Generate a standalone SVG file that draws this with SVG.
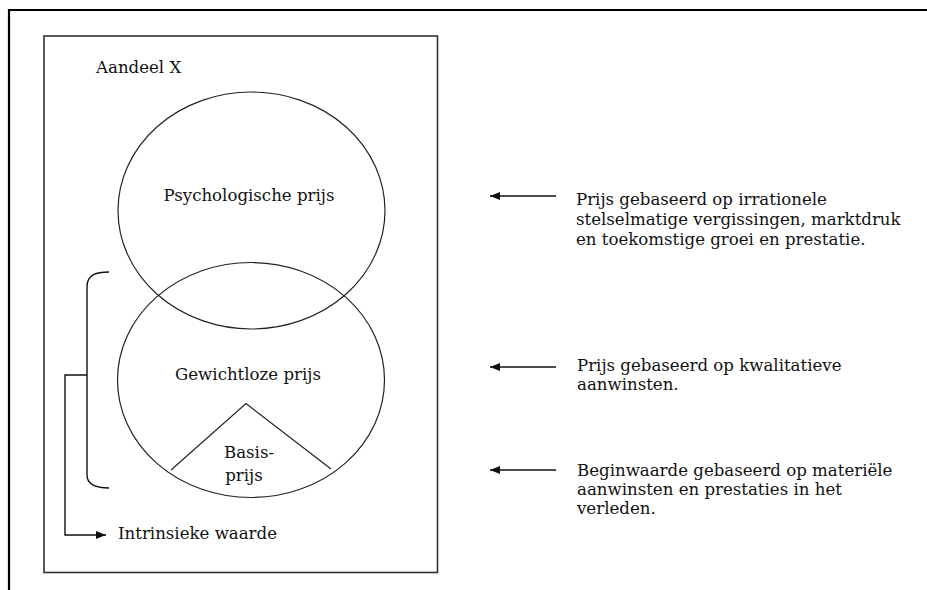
<svg xmlns="http://www.w3.org/2000/svg" width="927" height="590" viewBox="0 0 927 590">
<defs>
<style>
text{font-family:"DejaVu Serif","Liberation Serif",serif;font-size:16.6px;fill:#111}
.thin{fill:none;stroke:#222;stroke-width:1.2}
.box{fill:none;stroke:#333;stroke-width:1.6}
.frame{fill:none;stroke:#000;stroke-width:2.2}
.conn{fill:none;stroke:#111;stroke-width:1.4}
</style>
<marker id="ah" viewBox="0 0 10 8" refX="10" refY="4" markerWidth="10" markerHeight="8" markerUnits="userSpaceOnUse" orient="auto-start-reverse">
<path d="M0,0 L10,4 L0,8 Z" fill="#111"/>
</marker>
</defs>
<rect width="927" height="590" fill="#fff"/>
<path class="frame" d="M9,590 L9,10 L927,10"/>
<rect id="aandeel" class="box" x="44" y="36" width="393.5" height="536.5"/>
<text x="96" y="73">Aandeel X</text>
<g id="psychologische">
<ellipse class="thin" cx="251.5" cy="210.5" rx="133.5" ry="118.5"/>
<text x="249" y="201" text-anchor="middle">Psychologische prijs</text>
</g>
<g id="gewichtloze">
<ellipse class="thin" cx="251" cy="380" rx="133.5" ry="117.5"/>
<text x="248" y="380" text-anchor="middle">Gewichtloze prijs</text>
</g>
<g id="basis">
<path class="thin" d="M171,470 L246,403.5 L331,469"/>
<text x="249" y="458" text-anchor="middle">Basis-</text>
<text x="244" y="481" text-anchor="middle">prijs</text>
</g>
<g id="intrinsiek">
<text x="118" y="539">Intrinsieke waarde</text>
</g>
<g id="connectors">
<path class="conn" d="M109,272 C97,272 87,274 87,287 L87,475 C87,485 97,488 109,488"/>
<path class="conn" d="M87,375 L65,375 L65,535 L106,535" marker-end="url(#ah)"/>
<path class="conn" d="M556,196 L490,196" marker-end="url(#ah)"/>
<path class="conn" d="M556,367 L490,367" marker-end="url(#ah)"/>
<path class="conn" d="M556,470 L490,470" marker-end="url(#ah)"/>
</g>
<g id="desc1">
<text x="576" y="205">Prijs gebaseerd op irrationele</text>
<text x="576" y="225">stelselmatige vergissingen, marktdruk</text>
<text x="576" y="245">en toekomstige groei en prestatie.</text>
</g>
<g id="desc2">
<text x="577" y="371">Prijs gebaseerd op kwalitatieve</text>
<text x="577" y="390">aanwinsten.</text>
</g>
<g id="desc3">
<text x="577" y="476">Beginwaarde gebaseerd op materiële</text>
<text x="577" y="495">aanwinsten en prestaties in het</text>
<text x="577" y="514">verleden.</text>
</g>
</svg>
